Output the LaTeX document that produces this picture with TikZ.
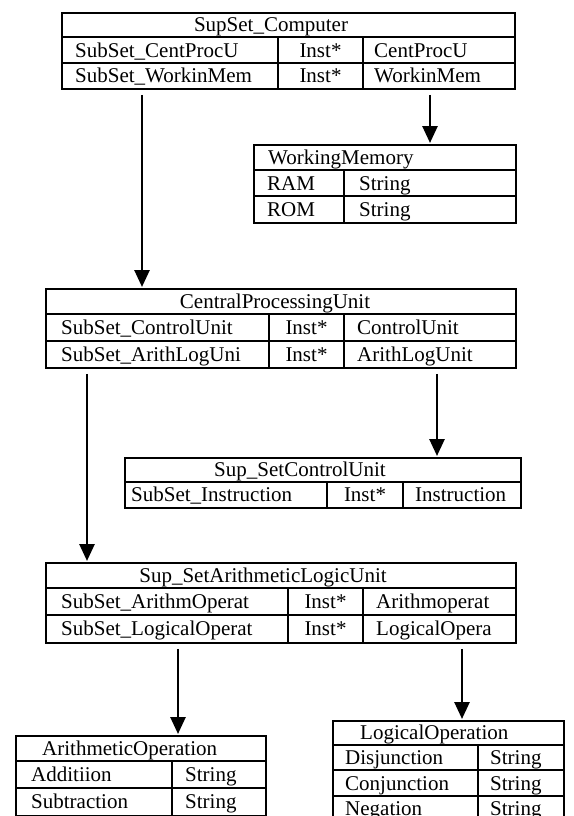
\documentclass[tikz,border=0pt]{standalone}
\usepackage{fontspec}
\setmainfont{Liberation Serif}
\usepackage{tikz}
\usetikzlibrary{arrows.meta}

\begin{document}
\begin{tikzpicture}[x=1pt,y=-1pt,
		tab/.style={draw, line width=1.8pt, inner sep=0pt, anchor=north west},
		rule/.style={line width=1.4pt},
		txt/.style={anchor=base west, inner sep=0pt, font=\fontsize{21}{25}\selectfont},
		mid/.style={txt, anchor=base},
		arr/.style={line width=2.7pt, shorten <=5pt, shorten >=1pt, -{Triangle[length=17pt,width=15pt]}}]
		\useasboundingbox (0,0) rectangle (573,816);
		\clip (0,0) rectangle (573,816);
		
		% SupSet_Computer
		\node[tab, minimum width=453pt, minimum height=76pt] (comp) at (61,12) {};
		\draw[rule] (61,37) -- (514,37);
		\draw[rule] (61,63) -- (514,63);
		\draw[rule] (278,37) -- (278,88);
		\draw[rule] (363,37) -- (363,88);
		\node[mid] (compT) at (271,31.5) {SupSet\_Computer};
		\node[txt] (compA1) at (75,57) {SubSet\_CentProcU};
		\node[mid] (compA2) at (320.5,57) {Inst*};
		\node[txt] (compA3) at (374,57) {CentProcU};
		\node[txt] (compB1) at (75,82.5) {SubSet\_WorkinMem};
		\node[mid] (compB2) at (320.5,82.5) {Inst*};
		\node[txt] (compB3) at (374,82.5) {WorkinMem};
		
		% WorkingMemory
		\node[tab, minimum width=262pt, minimum height=78pt] (wm) at (253,144) {};
		\draw[rule] (253,170) -- (515,170);
		\draw[rule] (253,196) -- (515,196);
		\draw[rule] (344,170) -- (344,222);
		\node[txt] (wmT) at (268,164) {WorkingMemory};
		\node[txt] (wmA1) at (267,190) {RAM};
		\node[txt] (wmA2) at (359,190) {String};
		\node[txt] (wmB1) at (267,216) {ROM};
		\node[txt] (wmB2) at (359,216) {String};
		
		% CentralProcessingUnit
		\node[tab, minimum width=470pt, minimum height=79pt] (cpu) at (45,288) {};
		\draw[rule] (45,314) -- (515,314);
		\draw[rule] (45,341) -- (515,341);
		\draw[rule] (269,314) -- (269,367);
		\draw[rule] (344,314) -- (344,367);
		\node[mid] (cpuT) at (275,308) {CentralProcessingUnit};
		\node[txt] (cpuA1) at (61,334.5) {SubSet\_ControlUnit};
		\node[mid] (cpuA2) at (306.5,334.5) {Inst*};
		\node[txt] (cpuA3) at (357,334.5) {ControlUnit};
		\node[txt] (cpuB1) at (61,361) {SubSet\_ArithLogUni};
		\node[mid] (cpuB2) at (306.5,361) {Inst*};
		\node[txt] (cpuB3) at (357,361) {ArithLogUnit};
		
		% Sup_SetControlUnit
		\node[tab, minimum width=396pt, minimum height=50pt] (cu) at (124,457) {};
		\draw[rule] (124,482) -- (520,482);
		\draw[rule] (327,482) -- (327,507);
		\draw[rule] (403,482) -- (403,507);
		\node[mid] (cuT) at (300,476.5) {Sup\_SetControlUnit};
		\node[txt] (cuA1) at (131,501.5) {SubSet\_Instruction};
		\node[mid] (cuA2) at (365,501.5) {Inst*};
		\node[txt] (cuA3) at (415,501.5) {Instruction};
		
		% Sup_SetArithmeticLogicUnit
		\node[tab, minimum width=470pt, minimum height=80pt] (alu) at (45,562) {};
		\draw[rule] (45,588) -- (515,588);
		\draw[rule] (45,615) -- (515,615);
		\draw[rule] (288,588) -- (288,642);
		\draw[rule] (363,588) -- (363,642);
		\node[mid] (aluT) at (263,582) {Sup\_SetArithmeticLogicUnit};
		\node[txt] (aluA1) at (61,608.5) {SubSet\_ArithmOperat};
		\node[mid] (aluA2) at (325.5,608.5) {Inst*};
		\node[txt] (aluA3) at (376,608.5) {Arithmoperat};
		\node[txt] (aluB1) at (61,635.5) {SubSet\_LogicalOperat};
		\node[mid] (aluB2) at (325.5,635.5) {Inst*};
		\node[txt] (aluB3) at (376,635.5) {LogicalOpera};
		
		% ArithmeticOperation
		\node[tab, minimum width=250pt, minimum height=80pt] (arith) at (15,735) {};
		\draw[rule] (15,761) -- (265,761);
		\draw[rule] (15,788) -- (265,788);
		\draw[rule] (172,761) -- (172,815);
		\node[txt] (arithT) at (42,755) {ArithmeticOperation};
		\node[txt] (arithA1) at (31,781.5) {Additiion};
		\node[txt] (arithA2) at (185,781.5) {String};
		\node[txt] (arithB1) at (31,808.5) {Subtraction};
		\node[txt] (arithB2) at (185,808.5) {String};
		
		% LogicalOperation
		\node[tab, minimum width=231pt, minimum height=101pt] (logic) at (332,720) {};
		\draw[rule] (332,745) -- (563,745);
		\draw[rule] (332,770) -- (563,770);
		\draw[rule] (332,796) -- (563,796);
		\draw[rule] (478,745) -- (478,821);
		\node[txt] (logicT) at (360,739.5) {LogicalOperation};
		\node[txt] (logicA1) at (345,764.5) {Disjunction};
		\node[txt] (logicA2) at (490,764.5) {String};
		\node[txt] (logicB1) at (345,790) {Conjunction};
		\node[txt] (logicB2) at (490,790) {String};
		\node[txt] (logicC1) at (345,815.5) {Negation};
		\node[txt] (logicC2) at (490,815.5) {String};
		
		% arrows
		\coordinate (xa) at (142,0);
		\coordinate (xb) at (430,0);
		\coordinate (xc) at (87,0);
		\coordinate (xd) at (437,0);
		\coordinate (xe) at (178,0);
		\coordinate (xf) at (462,0);
		\draw[arr] (comp.south -| xa) -- (cpu.north -| xa);
		\draw[arr] (comp.south -| xb) -- (wm.north -| xb);
		\draw[arr] (cpu.south -| xc) -- (alu.north -| xc);
		\draw[arr] (cpu.south -| xd) -- (cu.north -| xd);
		\draw[arr] (alu.south -| xe) -- (arith.north -| xe);
		\draw[arr] (alu.south -| xf) -- (logic.north -| xf);
	\end{tikzpicture}
\end{document}
